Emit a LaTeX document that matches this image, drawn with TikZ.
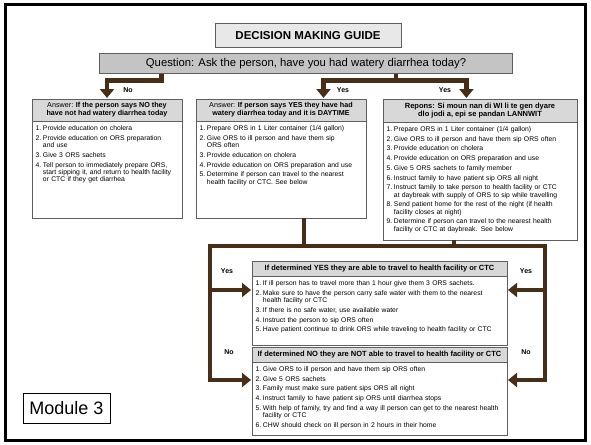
\documentclass[tikz,border=0pt]{standalone}
\usepackage{fontspec}
\setmainfont{Liberation Sans}
\usepackage{tikz}
\usetikzlibrary{positioning,calc,arrows.meta}

\definecolor{flowbrown}{RGB}{72,46,22}
\definecolor{headgray}{RGB}{216,216,216}
\definecolor{askgray}{RGB}{196,196,196}
\definecolor{titlegray}{RGB}{232,232,232}
\definecolor{edgegray}{RGB}{95,95,95}

\newcommand{\numitem}[2]{\hangindent=1.1em\hangafter=1\noindent\makebox[1.1em][l]{#1.}#2\par}

\begin{document}
\begin{tikzpicture}[x=1pt, y=-1pt,
    frame/.style={draw=black, line width=2.2pt},
    guide/.style={rectangle, draw=edgegray, line width=1pt, fill=titlegray, minimum width=186pt, minimum height=24pt, font=\fontsize{11.5}{13}\selectfont\bfseries},
    ask/.style={rectangle, draw=edgegray, line width=1pt, fill=askgray, minimum width=413pt, minimum height=19pt, font=\fontsize{11.3}{13}\selectfont},
    head/.style={rectangle, draw=edgegray, line width=0.8pt, fill=headgray, outer sep=0pt, inner sep=1pt, anchor=north, align=center, font=\fontsize{7.2}{8}\selectfont\bfseries},
    body/.style={rectangle, draw=edgegray, line width=0.8pt, fill=white, outer sep=0pt, inner xsep=3.5pt, inner ysep=4.5pt, text height=5pt, align=left, font=\fontsize{6.8}{7.4}\selectfont, execute at begin node={\setlength{\parskip}{2.3pt}}},
    modbox/.style={rectangle, draw=black, line width=0.8pt, minimum width=87pt, minimum height=30pt, font=\fontsize{18}{20}\selectfont},
    flow/.style={draw=flowbrown, line width=4.5pt, shorten >=1pt, -{Triangle[width=14pt,length=9pt]}},
    link/.style={draw=flowbrown, line width=4.5pt},
    tag/.style={font=\fontsize{7}{8}\selectfont\bfseries}
]
    \useasboundingbox (0,0) rectangle (591,444);
    \draw[frame] (5.5,4.5) rectangle (585.5,440.5);

    % Title And Question
    \node[guide] (guide) at (308,36) {DECISION MAKING GUIDE};
    \node[ask] (ask) at (306,63.5) {Question: Ask the person, have you had watery diarrhea today?};

    % Three Answer Boxes
    \node[head, minimum width=150pt, minimum height=22pt] (nohead) at (107,99)
        {\mdseries Answer: \bfseries If the person says NO they\\have not had watery diarrhea today};
    \node[body, below=0pt of nohead, text width=143pt, text depth=83pt] (nobody) {
        \numitem{1}{Provide education on cholera}
        \numitem{2}{Provide education on ORS preparation\newline and use}
        \numitem{3}{Give 3 ORS sachets}
        \numitem{4}{Tell person to immediately prepare ORS,\newline start sipping it, and return to health facility\newline or CTC if they get diarrhea}
    };

    \node[head, minimum width=170pt, minimum height=22pt] (dayhead) at (281,99)
        {\mdseries Answer: \bfseries If person says YES they have had\\watery diarrhea today and it is DAYTIME};
    \node[body, below=0pt of dayhead, text width=163pt, text depth=83pt] (daybody) {
        \numitem{1}{Prepare ORS in 1 Liter container (1/4 gallon)}
        \numitem{2}{Give ORS to ill person and have them sip\newline ORS often}
        \numitem{3}{Provide education on cholera}
        \numitem{4}{Provide education on ORS preparation and use}
        \numitem{5}{Determine if person can travel to the nearest\newline health facility or CTC. See below}
    };

    \node[head, minimum width=194pt, minimum height=23pt, font=\fontsize{7.5}{8.6}\selectfont\bfseries] (nighthead) at (480,99)
        {Repons: Si moun nan di WI li te gen dyare\\dlo jodi a, epi se pandan LANNWIT};
    \node[body, below=0pt of nighthead, text width=187pt, text depth=104pt] (nightbody) {
        \numitem{1}{Prepare ORS in 1 Liter container (1/4 gallon)}
        \numitem{2}{Give ORS to ill person and have them sip ORS often}
        \numitem{3}{Provide education on cholera}
        \numitem{4}{Provide education on ORS preparation and use}
        \numitem{5}{Give 5 ORS sachets to family member}
        \numitem{6}{Instruct family to have patient sip ORS all night}
        \numitem{7}{Instruct family to take person to health facility or CTC\newline at daybreak with supply of ORS to sip while travelling}
        \numitem{8}{Send patient home for the rest of the night (if health\newline facility closes at night)}
        \numitem{9}{Determine if person can travel to the nearest health\newline facility or CTC at daybreak. See below}
    };

    % Travel Boxes
    \node[head, minimum width=255pt, minimum height=15pt, font=\fontsize{7.5}{8}\selectfont\bfseries] (canhead) at (379.5,261)
        {If determined YES they are able to travel to health facility or CTC};
    \node[body, below=0pt of canhead, text width=248pt, text depth=55pt] (canbody) {
        \numitem{1}{If ill person has to travel more than 1 hour give them 3 ORS sachets.}
        \numitem{2}{Make sure to have the person carry safe water with them to the nearest\newline health facility or CTC}
        \numitem{3}{If there is no safe water, use available water}
        \numitem{4}{Instruct the person to sip ORS often}
        \numitem{5}{Have patient continue to drink ORS while traveling to health facility or CTC}
    };

    \node[head, minimum width=255pt, minimum height=15pt, font=\fontsize{7.5}{8}\selectfont\bfseries] (cannothead) at (379.5,347)
        {If determined NO they are NOT able to travel to health facility or CTC};
    \node[body, below=0pt of cannothead, text width=248pt, text depth=59pt] (cannotbody) {
        \numitem{1}{Give ORS to ill person and have them sip ORS often}
        \numitem{2}{Give 5 ORS sachets}
        \numitem{3}{Family must make sure patient sips ORS all night}
        \numitem{4}{Instruct family to have patient sip ORS until diarrhea stops}
        \numitem{5}{With help of family, try and find a way ill person can get to the nearest health\newline facility or CTC}
        \numitem{6}{CHW should check on ill person in 2 hours in their home}
    };

    \node[modbox] (module) at (66.5,408) {Module 3};

    % Question Fork Connectors
    \coordinate (askL) at ($(ask.south west)!0.151!(ask.south east)$);
    \coordinate (askR) at ($(ask.south west)!0.717!(ask.south east)$);
    \coordinate (dayin) at ($(dayhead.north west)!0.75!(dayhead.north east)$);
    \coordinate (nightin) at ($(nighthead.north west)!0.43!(nighthead.north east)$);
    \draw[flow] (askL) -- ++(0,7) -| (nohead.north);
    \draw[link] (askR) -- ++(0,7) coordinate (forkR);
    \draw[flow] (forkR) -| (dayin);
    \draw[flow] (forkR) -| (nightin);
    \node[tag] (notag) at (128,90) {No};
    \node[tag] (daytag) at (343,90) {Yes};
    \node[tag] (nighttag) at (445,90) {Yes};

    % Lower Convergence Connectors
    \coordinate (barL) at (210,246);
    \coordinate (barR) at (545,246);
    \coordinate (daystem) at ($(daybody.south west)!0.635!(daybody.south east)$);
    \coordinate (nightstem) at ($(nightbody.south west)!0.366!(nightbody.south east)$);
    \coordinate (caninL) at ($(canhead.north west)+(0,29)$);
    \coordinate (caninR) at ($(canhead.north east)+(0,29)$);
    \coordinate (cannotinL) at ($(cannothead.north west)+(0,33)$);
    \coordinate (cannotinR) at ($(cannothead.north east)+(0,33)$);
    \draw[link] (daystem) -- (daystem |- barL);
    \draw[link] (nightstem) -- (nightstem |- barL);
    \draw[flow] (barR) -- (barL) |- (cannotinL);
    \draw[flow] (barL) -- (barR) |- (cannotinR);
    \draw[flow] (barL) |- (caninL);
    \draw[flow] (barR) |- (caninR);
    \node[tag] (cantagL) at (227,271) {Yes};
    \node[tag] (cantagR) at (526,271) {Yes};
    \node[tag] (cannottagL) at (229,352) {No};
    \node[tag] (cannottagR) at (526,352) {No};

\end{tikzpicture}
\end{document}
